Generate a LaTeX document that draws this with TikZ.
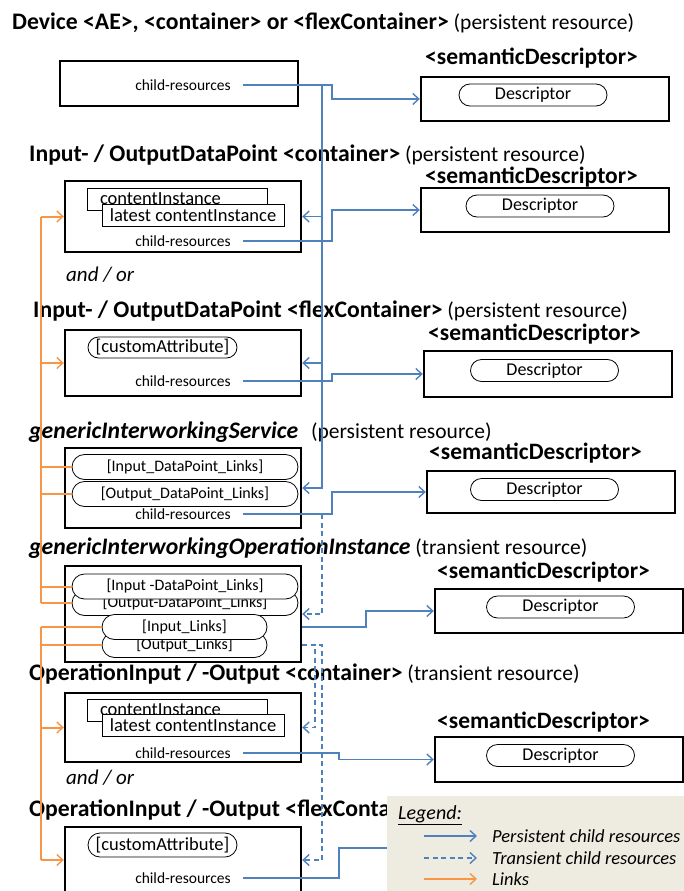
\documentclass[tikz,border=0pt]{standalone}
\usepackage{fontspec}
\setmainfont{Carlito}
\usetikzlibrary{positioning}
\usetikzlibrary{arrows.meta,shapes.misc}
\definecolor{refblue}{HTML}{4F81BD}
\definecolor{reforange}{HTML}{F79646}
\definecolor{legendtan}{HTML}{EEECE1}
\newcommand{\ttlbold}[1]{{\fontsize{23.7}{26}\selectfont\bfseries #1}}

\begin{document}
\begin{tikzpicture}[x=1pt, y=-1pt,
    title/.style={anchor=west, inner sep=0pt, font=\fontsize{21.5}{26}\selectfont},
    sdtitle/.style={anchor=west, inner sep=0pt, font=\fontsize{23.5}{26}\selectfont\bfseries},
    resbox/.style={draw, line width=2.4pt, minimum width=236pt, inner sep=0pt},
    sdbox/.style={draw, line width=2.4pt, minimum width=248pt, minimum height=44pt, inner sep=0pt},
    pill/.style={draw, fill=white, rounded rectangle, line width=0.8pt, inner sep=0pt, minimum height=25pt, font=\fontsize{16}{18}\selectfont},
    descr/.style={pill, minimum width=148pt, minimum height=22pt, font=\fontsize{18}{20}\selectfont},
    inst/.style={draw, fill=white, line width=0.8pt, minimum height=22pt, inner sep=0pt, font=\fontsize{18.5}{20}\selectfont},
    childres/.style={inner xsep=12pt, inner ysep=0pt, font=\fontsize{15.5}{18}\selectfont},
    andor/.style={anchor=west, inner sep=0pt, font=\fontsize{21}{24}\selectfont\itshape},
    legtext/.style={anchor=west, inner sep=0pt, font=\fontsize{18.5}{20}\selectfont\itshape},
    tip/.style={-{Straight Barb[length=6pt,width=11pt,line width=1.4pt]}},
    persist/.style={draw=refblue, line width=1.6pt},
    transient/.style={persist, dash pattern=on 5pt off 3.5pt},
    link/.style={draw=reforange, line width=2pt}
]
    \useasboundingbox (0,0) rectangle (684,891);
    \clip (0,0) rectangle (684,891);

    % resource titles
    \node[title] (tdev) at (12,23) {\ttlbold{Device <AE>, <container> or <flexContainer>} (persistent resource)};
    \node[title] (tdpc) at (29,155) {\ttlbold{Input- / OutputDataPoint <container>} (persistent resource)};
    \node[title] (tdpf) at (33,311) {\ttlbold{Input- / OutputDataPoint <flexContainer>} (persistent resource)};
    \node[title] (tgis) at (29,432) {\ttlbold{\itshape genericInterworkingService}\hspace{8pt} (persistent resource)};
    \node[title] (tgioi) at (29,548) {\ttlbold{\itshape genericInterworkingOperationInstance} (transient resource)};
    \node[title] (topc) at (29,674) {\ttlbold{OperationInput / -Output <container>} (transient resource)};
    \node[title] (topf) at (29,810) {\ttlbold{OperationInput / -Output <flexContainer>}};
    \node[andor] (andora) at (66,275) {and / or};
    \node[andor] (andorb) at (66,778) {and / or};

    % resource boxes
    \node[resbox, minimum width=238pt, minimum height=45pt] (dev) at (179,83.5) {};
    \node[resbox, minimum height=71pt] (dpc) at (183,216.5) {};
    \node[resbox, minimum height=66pt] (dpf) at (183,363) {};
    \node[resbox, minimum height=80pt] (gis) at (183,488) {};
    \node[resbox, minimum height=96pt] (gioi) at (183,614) {};
    \node[resbox, minimum height=69pt] (opc) at (183,727.5) {};
    \node[resbox, minimum height=66pt] (opf) at (183,860) {};

    % box contents
    \node[childres] (devcr) at (183,85) {child-resources};

    \node[inst, text width=154pt, inner xsep=13pt, align=left] (dpcci) at (177,199) {contentInstance};
    \node[inst, minimum width=182pt] (dpclat) at (193,215) {latest contentInstance};
    \node[childres] (dpccr) at (183,241) {child-resources};

    \node[pill, minimum width=149pt, minimum height=21pt, font=\fontsize{18.5}{20}\selectfont] (dpfca) at (162.5,347.5) {[customAttribute]};
    \node[childres] (dpfcr) at (183,381) {child-resources};

    \node[pill, minimum width=226pt] (gisin) at (185,467) {[Input\_DataPoint\_Links]};
    \node[pill, minimum width=226pt] (gisout) at (185,494) {[Output\_DataPoint\_Links]};
    \node[childres] (giscr) at (183,514) {child-resources};

    \node[pill, minimum width=226pt] (gioiout) at (185,603) {[Output-DataPoint\_Links]};
    \node[pill, minimum width=226pt] (gioiin) at (185,586.5) {[Input -DataPoint\_Links]};
    \node[pill, minimum width=165pt] (gioiol) at (184.5,645) {[Output\_Links]};
    \node[pill, minimum width=165pt] (gioiil) at (184.5,627) {[Input\_Links]};

    \node[inst, text width=154pt, inner xsep=13pt, align=left] (opcci) at (177,710) {contentInstance};
    \node[inst, minimum width=182pt] (opclat) at (193,725.5) {latest contentInstance};
    \node[childres] (opccr) at (183,753) {child-resources};

    \node[pill, minimum width=149pt, minimum height=24pt, font=\fontsize{18.5}{20}\selectfont] (opfca) at (162.5,845) {[customAttribute]};
    \node[childres] (opfcr) at (183,878) {child-resources};

    % semantic descriptors
    \node[sdtitle] (sdtdev) at (425,58) {<semanticDescriptor>};
    \node[sdbox] (sddev) at (545,99) {};
    \node[descr] (dscdev) at (533,95) {Descriptor};

    \node[sdtitle] (sdtdpc) at (425,177) {<semanticDescriptor>};
    \node[sdbox] (sddpc) at (545,210) {};
    \node[descr] (dscdpc) at (540,206) {Descriptor};

    \node[sdtitle] (sdtdpf) at (428,334) {<semanticDescriptor>};
    \node[sdbox, minimum height=46pt] (sddpf) at (548,374) {};
    \node[descr] (dscdpf) at (544.5,370.5) {Descriptor};

    \node[sdtitle] (sdtgis) at (429,453) {<semanticDescriptor>};
    \node[sdbox, minimum height=42pt] (sdgis) at (551,492) {};
    \node[descr] (dscgis) at (544.5,489.5) {Descriptor};

    \node[sdtitle] (sdtgioi) at (437,572) {<semanticDescriptor>};
    \node[sdbox] (sdgioi) at (559,611) {};
    \node[descr] (dscgioi) at (560.5,607) {Descriptor};

    \node[sdtitle] (sdtopc) at (437,722) {<semanticDescriptor>};
    \node[sdbox, minimum height=45pt] (sdopc) at (559,759.5) {};
    \node[descr] (dscopc) at (560.5,755.5) {Descriptor};

    \coordinate (sdopf) at (420,848);

    % columns of the connectors
    \coordinate (trunk) at (322,0);
    \coordinate (stepa) at (332,0);
    \coordinate (stepb) at (366,0);
    \coordinate (stepc) at (339,0);
    \coordinate (dropa) at (315,0);
    \coordinate (rail) at (41,0);

    % persistent child resources
    \draw[persist, tip] (devcr.east) -| (stepa |- sddev.west) -- (sddev.west);
    \draw[persist, tip] (dpccr.east) -| (stepa |- sddpc.west) -- (sddpc.west);
    \draw[persist, tip] (dpfcr.east) -| (stepa |- sddpf.west) -- (sddpf.west);
    \draw[persist, tip] (giscr.east) -| (stepa |- sdgis.west) -- (sdgis.west);
    \draw[persist, tip] (gioi.east |- gioiil.east) -| (stepb |- sdgioi.west) -- (sdgioi.west);
    \draw[persist, tip] (opccr.east) -| (stepc |- sdopc.west) -- (sdopc.west);
    \draw[persist] (opfcr.east) -| (stepc |- sdopf) -- (sdopf);

    \draw[persist, tip] (trunk |- devcr.east) |- (gis.east);
    \begin{scope}[every edge/.style={draw=refblue, line width=1.6pt, -{Straight Barb[length=6pt,width=11pt,line width=1.4pt]}}]
        \path (trunk |- dpc.east) edge (dpc.east);
        \path (trunk |- dpf.east) edge (dpf.east);
    \end{scope}

    % transient child resources
    \draw[transient, tip] (trunk |- giscr.east) |- (gioi.east);
    \draw[transient, tip] (gioi.east |- gioiol.east) -| (dropa |- opc.east) -- (opc.east);
    \draw[transient, tip] (gioi.east |- gioiol.east) -| (trunk |- opf.east) -- (opf.east);

    % links
    \draw[link] (rail |- dpc.west) -- (rail |- gioiout.west);
    \draw[link] (rail |- gioiil.west) -- (rail |- opf.west);
    \draw[link, tip] (rail |- dpc.west) -- (dpc.west);
    \draw[link, tip] (rail |- dpf.west) -- (dpf.west);
    \draw[link] (rail |- gisin.west) -- (gisin.west);
    \draw[link] (rail |- gisout.west) -- (gisout.west);
    \draw[link] (rail |- gioiin.west) -- (gioiin.west);
    \draw[link] (rail |- gioiout.west) -- (gioiout.west);
    \draw[link] (rail |- gioiil.west) -- (gioiil.west);
    \draw[link] (rail |- gioiol.west) -- (gioiol.west);
    \draw[link, tip] (rail |- opc.west) -- (opc.west);
    \draw[link, tip] (rail |- opf.west) -- (opf.west);

    % legend
    \node[fill=legendtan, anchor=north west, minimum width=300pt, minimum height=100pt, inner sep=0pt] (legend) at (387,796) {};
    \node[anchor=west, inner sep=0pt, font=\fontsize{20}{24}\selectfont\itshape] (legtitle) at (398,815) {\underline{Legend:}};
    \node[legtext] (legp) at (492,836) {Persistent child resources};
    \node[legtext] (legt) at (492,858) {Transient child resources};
    \node[legtext] (legl) at (492,879) {Links};
    \draw[persist, tip] ([xshift=-68pt]legp.west) -- ([xshift=-15pt]legp.west);
    \draw[transient, tip] ([xshift=-68pt]legt.west) -- ([xshift=-15pt]legt.west);
    \draw[link, tip] ([xshift=-68pt]legl.west) -- ([xshift=-15pt]legl.west);
\end{tikzpicture}
\end{document}
